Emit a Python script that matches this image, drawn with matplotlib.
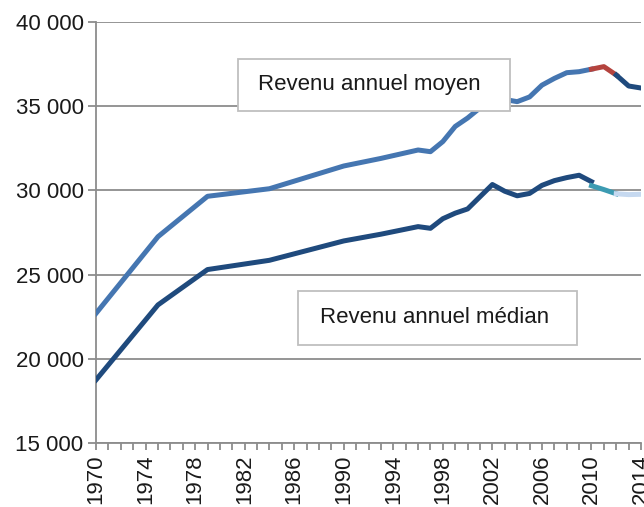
import matplotlib.pyplot as plt
import matplotlib.ticker as ticker
from matplotlib.patches import Rectangle

# ── Données ───────────────────────────────────────────────────────────────────
ANNEES_MOY = [1970, 1975, 1979, 1984, 1990, 1993, 1996, 1997, 1998, 1999, 2000,
              2001, 2002, 2003, 2004, 2005, 2006, 2007, 2008, 2009, 2010]
MOYEN = [22700, 27250, 29650, 30100, 31450, 31900, 32400, 32300, 32900, 33800,
         34300, 34900, 35500, 35400, 35270, 35550, 36250, 36650, 36990, 37050,
         37200]
ANNEES_MOY_B = [2010, 2011, 2012]
MOYEN_B = [37200, 37350, 36850]
ANNEES_MOY_C = [2012, 2013, 2014]
MOYEN_C = [36850, 36200, 36080]

ANNEES_MED = [1970, 1975, 1979, 1984, 1990, 1993, 1996, 1997, 1998, 1999, 2000,
              2002, 2003, 2004, 2005, 2006, 2007, 2008, 2009, 2010]
MEDIAN = [18750, 23200, 25300, 25850, 27000, 27400, 27850, 27750, 28320, 28650,
          28900, 30350, 29950, 29680, 29820, 30300, 30580, 30760, 30900, 30520]
ANNEES_MED_B = [2010, 2011, 2012]
MEDIAN_B = [30280, 30050, 29800]
ANNEES_MED_C = [2012, 2013, 2014]
MEDIAN_C = [29800, 29750, 29770]

ANNEES_ETIQ = list(range(1970, 2015, 4))

# ── Style ─────────────────────────────────────────────────────────────────────
POLICE = ["Liberation Sans Narrow", "Liberation Sans", "DejaVu Sans"]
GRIS = "#8c8c8c"
LW = 3.6

fig = plt.figure(figsize=(6.44, 5.07), dpi=100)
ax = fig.add_axes([0.1491, 0.1262, 0.8463, 0.8304])

ax.plot(ANNEES_MOY, MOYEN, color="#4576b1", lw=LW, zorder=3)
ax.plot(ANNEES_MOY_B, MOYEN_B, color="#b4433e", lw=LW, zorder=3)
ax.plot(ANNEES_MOY_C, MOYEN_C, color="#1f4a7d", lw=LW, zorder=3)

ax.plot(ANNEES_MED, MEDIAN, color="#1f4a7d", lw=LW, zorder=3)
ax.plot(ANNEES_MED_B, MEDIAN_B, color="#3c9bb2", lw=LW, zorder=3)
ax.plot(ANNEES_MED_C, MEDIAN_C, color="#c6d9f0", lw=LW, zorder=3)

ax.set_xlim(1970, 2014)
ax.set_ylim(15000, 40000)
ax.yaxis.set_major_locator(ticker.MultipleLocator(5000))
ax.yaxis.set_major_formatter(
    ticker.FuncFormatter(lambda v, p: f"{int(v):,}".replace(",", " ")))
ax.xaxis.set_major_locator(ticker.FixedLocator(ANNEES_ETIQ))
ax.xaxis.set_minor_locator(ticker.MultipleLocator(1))

ax.grid(axis="y", color=GRIS, lw=1.3, zorder=1)
for cote in ["top", "right"]:
    ax.spines[cote].set_visible(False)
for cote in ["left", "bottom"]:
    ax.spines[cote].set_color(GRIS)
    ax.spines[cote].set_linewidth(1.3)

ax.tick_params(axis="y", length=6, width=1.3, color=GRIS, pad=3)
ax.tick_params(axis="x", which="both", length=5, width=1.3, color=GRIS,
               rotation=90, pad=3)
for lab in ax.get_xticklabels() + ax.get_yticklabels():
    lab.set_family(POLICE)
    lab.set_fontsize(16)
    lab.set_color("#1a1a1a")

# encadrés des étiquettes
for (x0, y0, w, h) in [(0.2606, 0.7886, 0.499, 0.1235),
                       (0.3706, 0.2328, 0.512, 0.128)]:
    ax.add_patch(Rectangle((x0, y0), w, h, transform=ax.transAxes,
                           fc="white", ec="#bfbfbf", lw=1.3, zorder=5))
ax.text(0.297, 0.851, "Revenu annuel moyen", transform=ax.transAxes,
        family=POLICE, fontsize=16, color="#1a1a1a", va="center", ha="left",
        zorder=6)
ax.text(0.411, 0.297, "Revenu annuel médian", transform=ax.transAxes,
        family=POLICE, fontsize=16, color="#1a1a1a", va="center", ha="left",
        zorder=6)

fig.savefig("out.png", dpi=100)
